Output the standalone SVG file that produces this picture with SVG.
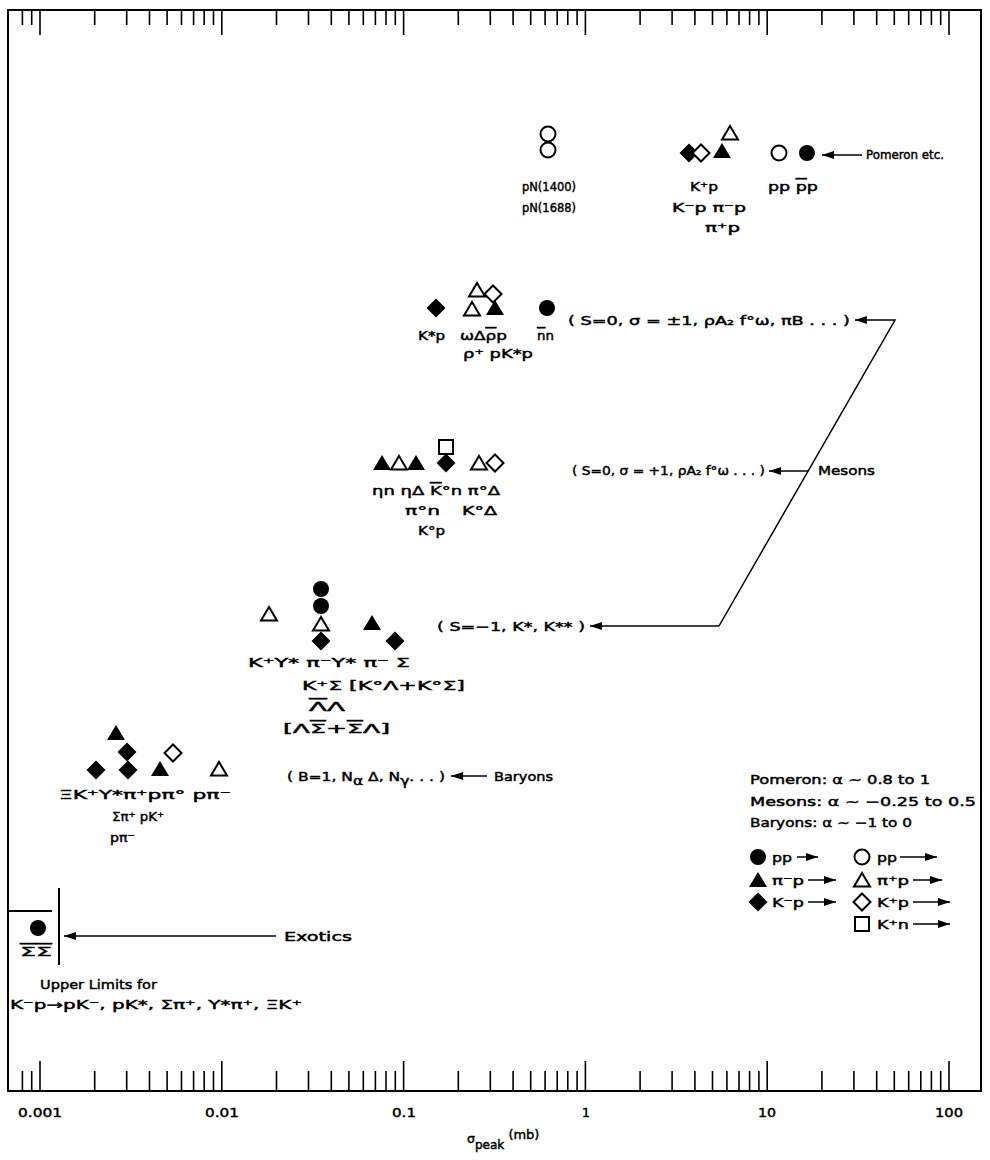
<svg xmlns="http://www.w3.org/2000/svg" width="990" height="1160" viewBox="0 0 990 1160">
<style>
.t{font-family:"DejaVu Sans","Liberation Sans",sans-serif;font-size:12.5px;font-weight:normal;fill:#000;stroke:#000;stroke-width:0.45}
.ax{stroke:#000;stroke-width:2;fill:none}
.tk{stroke:#000;stroke-width:1.6;fill:none}
.cn{stroke:#000;stroke-width:1.5;fill:none}
.ob{text-decoration:overline}
</style>
<defs>
<circle id="fc" r="8" fill="#000"/>
<circle id="oc" r="7.5" fill="#fff" stroke="#000" stroke-width="2"/>
<polygon id="ft" points="0,-8 9,7 -9,7" fill="#000"/>
<polygon id="ot" points="0,-7 8,6.5 -8,6.5" fill="#fff" stroke="#000" stroke-width="2"/>
<polygon id="fd" points="0,-9.5 9.5,0 0,9.5 -9.5,0" fill="#000"/>
<polygon id="od" points="0,-8.5 8.5,0 0,8.5 -8.5,0" fill="#fff" stroke="#000" stroke-width="2"/>
<rect id="os" x="-7" y="-7" width="14" height="14" fill="#fff" stroke="#000" stroke-width="2"/>
<marker id="ah" markerUnits="userSpaceOnUse" markerWidth="12" markerHeight="8" refX="12" refY="4" orient="auto"><path d="M0,0 L12,4 L0,8 z" fill="#000"/></marker>
</defs>

<g id="axes">
<path class="ax" d="M8,10 H981 V1091 H8 Z"/>
<path class="tk" d="M22.4,10V25M31.7,10V25M94.7,10V25M126.7,10V25M149.5,10V25M167.1,10V25M181.5,10V25M193.6,10V25M204.2,10V25M213.5,10V25M276.5,10V25M308.5,10V25M331.3,10V25M348.9,10V25M363.3,10V25M375.4,10V25M386,10V25M395.3,10V25M458.3,10V25M490.3,10V25M513.1,10V25M530.7,10V25M545.1,10V25M557.2,10V25M567.8,10V25M577.1,10V25M640.1,10V25M672.1,10V25M694.9,10V25M712.5,10V25M726.9,10V25M739,10V25M749.6,10V25M758.9,10V25M821.9,10V25M853.9,10V25M876.7,10V25M894.3,10V25M908.7,10V25M920.8,10V25M931.4,10V25M940.7,10V25"/>
<path class="tk" d="M40,10V35M221.8,10V35M403.6,10V35M585.4,10V35M767.2,10V35M949,10V35"/>
<path class="tk" d="M22.4,1091V1071M31.7,1091V1071M94.7,1091V1071M126.7,1091V1071M149.5,1091V1071M167.1,1091V1071M181.5,1091V1071M193.6,1091V1071M204.2,1091V1071M213.5,1091V1071M276.5,1091V1071M308.5,1091V1071M331.3,1091V1071M348.9,1091V1071M363.3,1091V1071M375.4,1091V1071M386,1091V1071M395.3,1091V1071M458.3,1091V1071M490.3,1091V1071M513.1,1091V1071M530.7,1091V1071M545.1,1091V1071M557.2,1091V1071M567.8,1091V1071M577.1,1091V1071M640.1,1091V1071M672.1,1091V1071M694.9,1091V1071M712.5,1091V1071M726.9,1091V1071M739,1091V1071M749.6,1091V1071M758.9,1091V1071M821.9,1091V1071M853.9,1091V1071M876.7,1091V1071M894.3,1091V1071M908.7,1091V1071M920.8,1091V1071M931.4,1091V1071M940.7,1091V1071"/>
<path class="tk" d="M40,1091V1061M221.8,1091V1061M403.6,1091V1061M585.4,1091V1061M767.2,1091V1061M949,1091V1061"/>
<g class="t" text-anchor="middle" font-size="13.5">
<text x="40" y="1117" textLength="44" lengthAdjust="spacingAndGlyphs">0.001</text>
<text x="222" y="1117" textLength="34" lengthAdjust="spacingAndGlyphs">0.01</text>
<text x="404" y="1117" textLength="24" lengthAdjust="spacingAndGlyphs">0.1</text>
<text x="586" y="1117">1</text>
<text x="767" y="1117" textLength="18" lengthAdjust="spacingAndGlyphs">10</text>
<text x="949" y="1117" textLength="28" lengthAdjust="spacingAndGlyphs">100</text>
</g>
<text class="t" x="467" y="1143" font-size="13.5">σ<tspan dy="6" font-size="12">peak</tspan><tspan dy="-10" font-size="13"> (mb)</tspan></text>
</g>

<g id="pomeron">
<use href="#oc" x="548" y="134"/>
<use href="#oc" x="548" y="150"/>
<text class="t" x="522" y="191" textLength="54" lengthAdjust="spacingAndGlyphs">pN(1400)</text>
<text class="t" x="522" y="212" textLength="54" lengthAdjust="spacingAndGlyphs">pN(1688)</text>
<use href="#fd" x="689" y="153"/>
<use href="#od" x="701" y="153"/>
<use href="#ft" x="722" y="151"/>
<use href="#ot" x="730" y="133"/>
<use href="#oc" x="779" y="153"/>
<use href="#fc" x="807" y="153"/>
<text class="t" x="690" y="191" textLength="28" lengthAdjust="spacingAndGlyphs">K⁺p</text>
<text class="t" x="768" y="191" textLength="50" lengthAdjust="spacingAndGlyphs">pp <tspan class="ob">p</tspan>p</text>
<text class="t" x="672" y="212" textLength="74" lengthAdjust="spacingAndGlyphs">K⁻p π⁻p</text>
<text class="t" x="705" y="232" textLength="35" lengthAdjust="spacingAndGlyphs">π⁺p</text>
<text class="t" x="866" y="159" textLength="78" lengthAdjust="spacingAndGlyphs">Pomeron etc.</text>
</g>

<g id="mesons-pm1">
<use href="#fd" x="436" y="308"/>
<use href="#ot" x="477" y="290"/>
<use href="#od" x="493" y="294"/>
<use href="#ot" x="472" y="309"/>
<use href="#ft" x="495" y="308"/>
<use href="#fc" x="547" y="308"/>
<text class="t" x="418" y="340" textLength="27" lengthAdjust="spacingAndGlyphs">K*p</text>
<text class="t" x="460" y="340" textLength="47" lengthAdjust="spacingAndGlyphs">ωΔ<tspan class="ob">ρ</tspan>p</text>
<text class="t" x="537" y="340" textLength="17" lengthAdjust="spacingAndGlyphs"><tspan class="ob">n</tspan>n</text>
<text class="t" x="463" y="358" textLength="70" lengthAdjust="spacingAndGlyphs">ρ⁺ pK*p</text>
<text class="t" x="568" y="325" textLength="282" lengthAdjust="spacingAndGlyphs">( S=0, σ = ±1, ρA₂ f°ω, πB . . . )</text>
</g>

<g id="mesons-p1">
<use href="#ft" x="382" y="463"/>
<use href="#ot" x="399" y="463"/>
<use href="#ft" x="416" y="463"/>
<use href="#os" x="446" y="447"/>
<use href="#fd" x="446" y="463"/>
<use href="#ot" x="479" y="463"/>
<use href="#od" x="495" y="463"/>
<text class="t" x="372" y="495" textLength="128" lengthAdjust="spacingAndGlyphs">ηn ηΔ <tspan class="ob">K</tspan>°n π°Δ</text>
<text class="t" x="405" y="515" textLength="35" lengthAdjust="spacingAndGlyphs">π°n</text>
<text class="t" x="462" y="515" textLength="35" lengthAdjust="spacingAndGlyphs">K°Δ</text>
<text class="t" x="418" y="535" textLength="27" lengthAdjust="spacingAndGlyphs">K°p</text>
<text class="t" x="572" y="475" textLength="193" lengthAdjust="spacingAndGlyphs">( S=0, σ = +1, ρA₂ f°ω . . . )</text>
<text class="t" x="818" y="475" textLength="57" lengthAdjust="spacingAndGlyphs">Mesons</text>
</g>

<g id="strange">
<use href="#fc" x="321" y="589"/>
<use href="#fc" x="321" y="606"/>
<use href="#ot" x="321" y="624"/>
<use href="#fd" x="321" y="641"/>
<use href="#ot" x="269" y="614"/>
<use href="#ft" x="372" y="623"/>
<use href="#fd" x="395" y="641"/>
<text class="t" x="437" y="631" textLength="148" lengthAdjust="spacingAndGlyphs">( S=−1, K*, K** )</text>
<text class="t" x="248" y="667" textLength="162" lengthAdjust="spacingAndGlyphs">K⁺Y* π⁻Y* π⁻ Σ</text>
<text class="t" x="302" y="690" textLength="163" lengthAdjust="spacingAndGlyphs">K⁺Σ  [K°Λ+K°Σ]</text>
<text class="t" x="309" y="711" textLength="36" lengthAdjust="spacingAndGlyphs"><tspan class="ob">Λ</tspan>Λ</text>
<text class="t" x="283" y="733" textLength="107" lengthAdjust="spacingAndGlyphs">[Λ<tspan class="ob">Σ</tspan>+<tspan class="ob">Σ</tspan>Λ]</text>
</g>

<g id="baryons">
<use href="#ft" x="116" y="733"/>
<use href="#fd" x="127" y="752"/>
<use href="#fd" x="96" y="770"/>
<use href="#fd" x="128" y="770"/>
<use href="#ft" x="160" y="769"/>
<use href="#od" x="173" y="753"/>
<use href="#ot" x="219" y="769"/>
<text class="t" x="287" y="781" textLength="158" lengthAdjust="spacingAndGlyphs">( B=1, N<tspan dy="4">α</tspan><tspan dy="-4"> Δ, N</tspan><tspan dy="4">γ</tspan><tspan dy="-4">. . . )</tspan></text>
<text class="t" x="494" y="781" textLength="59" lengthAdjust="spacingAndGlyphs">Baryons</text>
<text class="t" x="59" y="799" textLength="172" lengthAdjust="spacingAndGlyphs">ΞK⁺Y*π⁺pπ° pπ⁻</text>
<text class="t" x="112" y="821" textLength="52" lengthAdjust="spacingAndGlyphs">Σπ⁺ pK⁺</text>
<text class="t" x="110" y="842" textLength="25" lengthAdjust="spacingAndGlyphs">pπ⁻</text>
</g>

<g id="exotics">
<path class="ax" d="M8,911 H52 M59,888 V965"/>
<use href="#fc" x="38" y="928"/>
<text class="t" x="20" y="956" textLength="32" lengthAdjust="spacingAndGlyphs"><tspan class="ob">Σ</tspan><tspan class="ob">Σ</tspan></text>
<text class="t" x="284" y="941" textLength="68" lengthAdjust="spacingAndGlyphs">Exotics</text>
<text class="t" x="40" y="989" textLength="117" lengthAdjust="spacingAndGlyphs">Upper Limits for</text>
<text class="t" x="10" y="1009" textLength="292" lengthAdjust="spacingAndGlyphs">K⁻p→pK⁻, pK*, Σπ⁺, Y*π⁺, ΞK⁺</text>
</g>

<g id="legend">
<text class="t" x="750" y="784" textLength="180" lengthAdjust="spacingAndGlyphs">Pomeron: α ∼ 0.8 to 1</text>
<text class="t" x="750" y="806" textLength="226" lengthAdjust="spacingAndGlyphs">Mesons: α ∼ −0.25 to 0.5</text>
<text class="t" x="750" y="827" textLength="162" lengthAdjust="spacingAndGlyphs">Baryons: α ∼ −1 to 0</text>
<use href="#fc" x="758" y="857"/>
<use href="#ft" x="758" y="880"/>
<use href="#fd" x="758" y="902"/>
<text class="t" x="772" y="862" textLength="20" lengthAdjust="spacingAndGlyphs">pp</text>
<text class="t" x="772" y="885" textLength="32" lengthAdjust="spacingAndGlyphs">π⁻p</text>
<text class="t" x="772" y="907" textLength="32" lengthAdjust="spacingAndGlyphs">K⁻p</text>
<use href="#oc" x="862" y="857"/>
<use href="#ot" x="862" y="880"/>
<use href="#od" x="862" y="902"/>
<use href="#os" x="862" y="924"/>
<text class="t" x="877" y="862" textLength="20" lengthAdjust="spacingAndGlyphs">pp</text>
<text class="t" x="877" y="885" textLength="32" lengthAdjust="spacingAndGlyphs">π⁺p</text>
<text class="t" x="877" y="907" textLength="32" lengthAdjust="spacingAndGlyphs">K⁺p</text>
<text class="t" x="877" y="929" textLength="32" lengthAdjust="spacingAndGlyphs">K⁺n</text>
</g>

<g id="connectors">
<line class="cn" x1="862" y1="155" x2="822" y2="155" marker-end="url(#ah)"/>
<path class="cn" d="M719,626 L895,320 L855,320" marker-end="url(#ah)"/>
<line class="cn" x1="719" y1="626" x2="590" y2="626" marker-end="url(#ah)"/>
<line class="cn" x1="808" y1="471" x2="769" y2="471" marker-end="url(#ah)"/>
<line class="cn" x1="487" y1="776" x2="451" y2="776" marker-end="url(#ah)"/>
<line class="cn" x1="276" y1="936" x2="64" y2="936" marker-end="url(#ah)"/>
<line class="cn" x1="797" y1="857" x2="818" y2="857" marker-end="url(#ah)"/>
<line class="cn" x1="808" y1="880" x2="836" y2="880" marker-end="url(#ah)"/>
<line class="cn" x1="808" y1="902" x2="836" y2="902" marker-end="url(#ah)"/>
<line class="cn" x1="900" y1="857" x2="937" y2="857" marker-end="url(#ah)"/>
<line class="cn" x1="913" y1="880" x2="942" y2="880" marker-end="url(#ah)"/>
<line class="cn" x1="913" y1="902" x2="950" y2="902" marker-end="url(#ah)"/>
<line class="cn" x1="913" y1="924" x2="950" y2="924" marker-end="url(#ah)"/>
</g>
</svg>
